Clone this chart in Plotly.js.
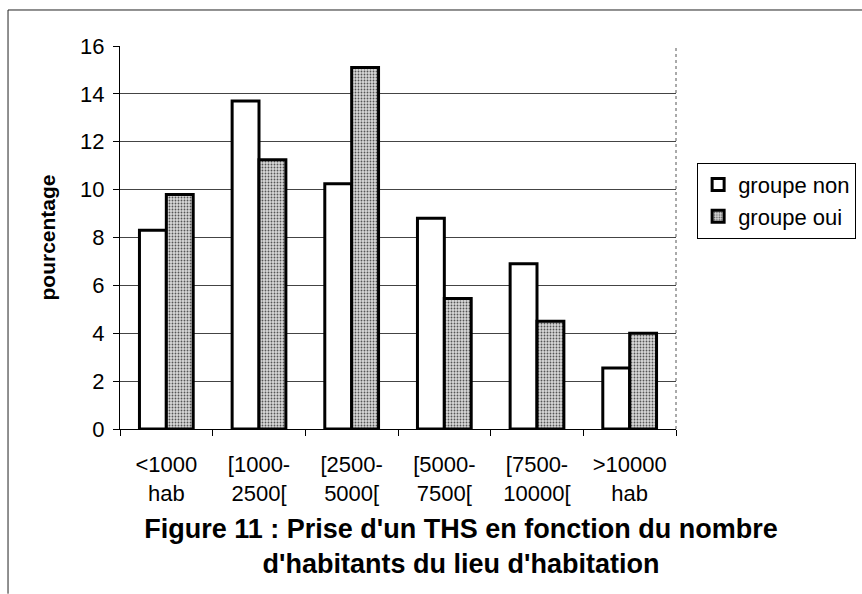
<!DOCTYPE html>
<html>
<head>
<meta charset="utf-8">
<script src="https://cdn.plot.ly/plotly-3.0.1.min.js"></script>
<style>html,body{margin:0;padding:0;background:#fff;}#chart{width:862px;height:594px;}</style>
</head>
<body>
<div id="chart"></div>
<script>
const categories = ["<1000<br>hab", "[1000-<br>2500[", "[2500-<br>5000[", "[5000-<br>7500[", "[7500-<br>10000[", ">10000<br>hab"];
const groupeNon = [8.3, 13.7, 10.25, 8.8, 6.9, 2.55];
const groupeOui = [9.8, 11.25, 15.1, 5.45, 4.5, 4.0];
const yTicks = [0, 2, 4, 6, 8, 10, 12, 14, 16];

const font = "Liberation Sans, Arial, sans-serif";

const traces = [
  {
    type: "bar", name: "groupe non", x: categories, y: groupeNon,
    marker: {color: "#ffffff", line: {color: "#000", width: 3}}
  },
  {
    type: "bar", name: "groupe oui", x: categories, y: groupeOui,
    marker: {color: "#d0d0d0", line: {color: "#000", width: 3},
      pattern: {shape: ".", size: 3, solidity: 0.3, fgcolor: "#555", bgcolor: "#d8d8d8"}}
  }
];

const layout = {
  width: 862, height: 594,
  margin: {l: 120, r: 186, t: 46, b: 165, autoexpand: false},
  paper_bgcolor: "#fff", plot_bgcolor: "#fff",
  font: {family: font, size: 22, color: "#000"},
  bargap: 0.42, bargroupgap: 0,
  barmode: "group",
  showlegend: true,
  legend: {x: 1.038, y: 0.695, xanchor: "left", yanchor: "top",
    bordercolor: "#000", borderwidth: 1, bgcolor: "#fff",
    font: {family: font, size: 22}, itemwidth: 30, tracegroupgap: 4},
  title: {text: "<b>Figure 11 : Prise d'un THS en fonction du nombre<br>d'habitants du lieu d'habitation</b>",
    x: 461/862, xanchor: "center", xref: "container", yref: "container", y: 1 - 538/594, yanchor: "top",
    font: {family: font, size: 27, color: "#000"}},
  xaxis: {type: "category", showgrid: false, showline: true, linecolor: "#000", linewidth: 1,
    ticks: "outside", tickson: "boundaries", ticklen: 6, tickcolor: "#000", ticklabelstandoff: 16,
    tickfont: {family: font, size: 22}, automargin: false},
  yaxis: {range: [0, 16], tickvals: yTicks, showgrid: true, gridcolor: "#444", gridwidth: 1,
    showline: true, linecolor: "#000", linewidth: 1, ticks: "outside", ticklen: 6, tickcolor: "#000",
    zeroline: false, tickfont: {family: font, size: 22}, ticklabelstandoff: 4,
    title: {text: "<b>pourcentage</b>", font: {family: font, size: 21}, standoff: 18}, automargin: false},
  shapes: [
    {type: "line", xref: "paper", yref: "paper", x0: 1, x1: 1, y0: 0, y1: 1, line: {color: "#555", width: 1, dash: "dot"}},
    {type: "line", xref: "paper", yref: "paper", x0: -0.2014, x1: 1.34, y0: 1.094, y1: 1.094, line: {color: "#222", width: 1}},
    {type: "line", xref: "paper", yref: "paper", x0: -0.2014, x1: -0.2014, y0: 1.094, y1: -0.43, line: {color: "#222", width: 1}}
  ]
};

Plotly.newPlot("chart", traces, layout, {displayModeBar: false, staticPlot: true});
</script>
</body>
</html>
